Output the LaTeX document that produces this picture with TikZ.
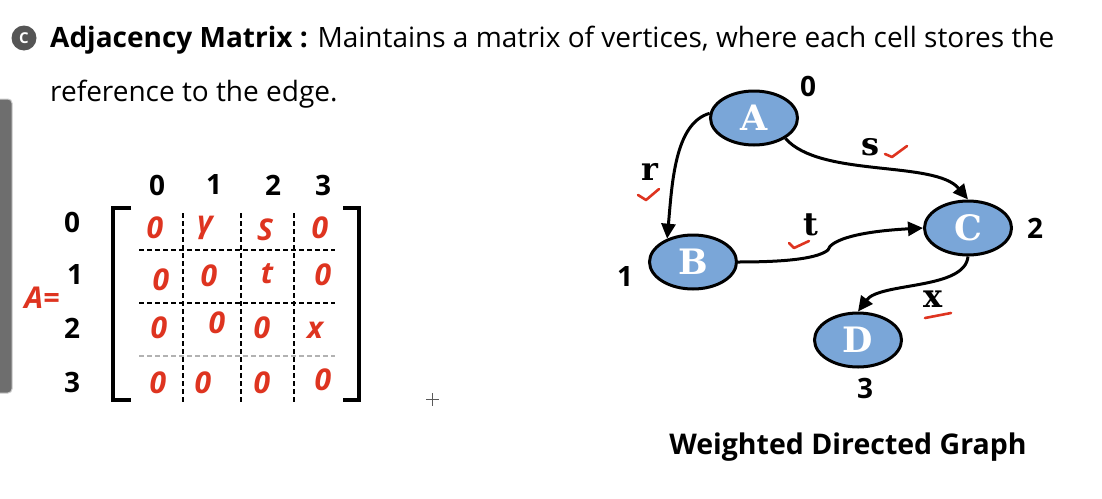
\documentclass[tikz,border=0pt]{standalone}
\usepackage{fontspec}
\setmainfont{Open Sans}
\newfontfamily\slab{DejaVu Serif}
\usetikzlibrary{shapes.geometric,arrows.meta}
\definecolor{nodeblue}{RGB}{122,166,216}
\definecolor{inkred}{RGB}{222,52,32}
\definecolor{badge}{RGB}{85,85,85}
\definecolor{toolgray}{RGB}{110,110,110}
\begin{document}
\begin{tikzpicture}[x=1pt,y=1pt,
 vert/.style={ellipse,draw=black,line width=3pt,fill=nodeblue,minimum width=87pt,minimum height=54pt,inner sep=0pt,text=white,font=\slab\bfseries\fontsize{35}{35}\selectfont},
 edge/.style={line width=3pt,-{Triangle[length=15pt,width=14pt]}},
 elabel/.style={font=\slab\bfseries\fontsize{32}{32}\selectfont,inner sep=0pt},
 idx/.style={font=\bfseries\fontsize{28}{28}\selectfont,inner sep=0pt},
 hw/.style={text=inkred,font=\bfseries\itshape\fontsize{30}{30}\selectfont,inner sep=0pt},
 check/.style={draw=inkred,line width=2.6pt,line cap=round,line join=round},
 griddash/.style={line width=1.1pt,dash pattern=on 5pt off 3pt},
 brk/.style={line width=3.2pt},
 txt/.style={anchor=base west,inner sep=0pt,font=\fontsize{28}{28}\selectfont}
]
\useasboundingbox (0,0) rectangle (1102,-498);
% toolbar strip
\draw[fill=toolgray,draw=gray!40,line width=1pt,rounded corners=4pt] (-8,-99) rectangle (12,-393);
% header
\node[circle,fill=badge,minimum size=25pt,inner sep=0pt,text=white,font=\bfseries\fontsize{15}{15}\selectfont] (badge) at (24,-38) {C};
\node[txt] (h1) at (50,-47) {\textbf{Adjacency Matrix :} Maintains a matrix of vertices, where each cell stores the};
\node[txt] (h2) at (50,-101) {reference to the edge.};
% matrix headers
\node[idx] (c0) at (157,-185) {0};
\node[idx] (c1) at (214,-185) {1};
\node[idx] (c2) at (273,-185) {2};
\node[idx] (c3) at (323,-185) {3};
\node[idx] (r0) at (72,-222) {0};
\node[idx] (r1) at (75,-275) {1};
\node[idx] (r2) at (72,-328) {2};
\node[idx] (r3) at (72,-382) {3};
% brackets
\draw[brk] (131,-208) -- (113,-208) -- (113,-400) -- (131,-400);
\draw[brk] (343,-208) -- (359,-208) -- (359,-400) -- (343,-400);
% dashed grid
\draw[griddash] (183,-213) -- (183,-402);
\draw[griddash] (241,-213) -- (241,-402);
\draw[griddash] (294,-213) -- (294,-402);
\draw[griddash] (139,-250) -- (335,-250);
\draw[griddash] (139,-303) -- (335,-303);
\draw[griddash,draw=gray!60] (139,-356) -- (335,-356);
% handwritten entries
\node[hw] (m00) at (155,-228) {0};
\node[hw] (m01) at (205,-228) {γ};
\node[hw] (m02) at (265,-230) {S};
\node[hw] (m03) at (320,-228) {0};
\node[hw] (m10) at (161,-280) {0};
\node[hw] (m11) at (209,-276) {0};
\node[hw] (m12) at (267,-274) {t};
\node[hw] (m13) at (323,-275) {0};
\node[hw] (m20) at (159,-328) {0};
\node[hw] (m21) at (217,-323) {0};
\node[hw] (m22) at (262,-328) {0};
\node[hw] (m23) at (315,-330) {x};
\node[hw] (m30) at (158,-383) {0};
\node[hw] (m31) at (203,-383) {0};
\node[hw] (m32) at (262,-383) {0};
\node[hw] (m33) at (323,-380) {0};
\node[hw] (Aeq) at (42,-298) {A=};
% graph
\node[vert] (A) at (754,-118) {A};
\node[vert] (B) at (693,-262) {B};
\node[vert] (C) at (968,-228) {C};
\node[vert] (D) at (858,-340) {D};
\node[idx] (l0) at (808,-86) {0};
\node[idx] (l1) at (625,-277) {1};
\node[idx] (l2) at (1035,-228) {2};
\node[idx] (l3) at (865,-388) {3};
\draw[edge] (A.174) .. controls +(-35,-10) and +(5,55) .. (B.138);
\draw[edge] (A.-33) .. controls (820,-178) and (935,-160) .. (C.north);
\draw[edge] (B.east) .. controls (790,-262) and (818,-258) .. (828,-250)
  .. controls (830,-242) and (850,-232) .. (C.west);
\draw[edge] (C.south) .. controls (965,-290) and (880,-282) .. (D.north);
\node[elabel] (er) at (650,-172) {r};
\node[elabel] (es) at (870,-147) {s};
\node[elabel] (et) at (811,-225) {t};
\node[elabel] (ex) at (933,-299) {x};
\draw[check] (638,-195) -- (646,-200) -- (659,-189);
\draw[check] (885,-154) -- (892,-157) -- (907,-146);
\draw[check] (789,-243) -- (794,-248) -- (809,-241);
\draw[check] (925,-318) -- (951,-313);
\node[font=\bfseries\fontsize{28.5}{28.5}\selectfont] (title) at (848,-447) {Weighted Directed Graph};
% cursor
\draw[gray!70!black,line width=1pt] (426,-399) -- (439,-399) (432.5,-393) -- (432.5,-406);
\end{tikzpicture}
\end{document}
